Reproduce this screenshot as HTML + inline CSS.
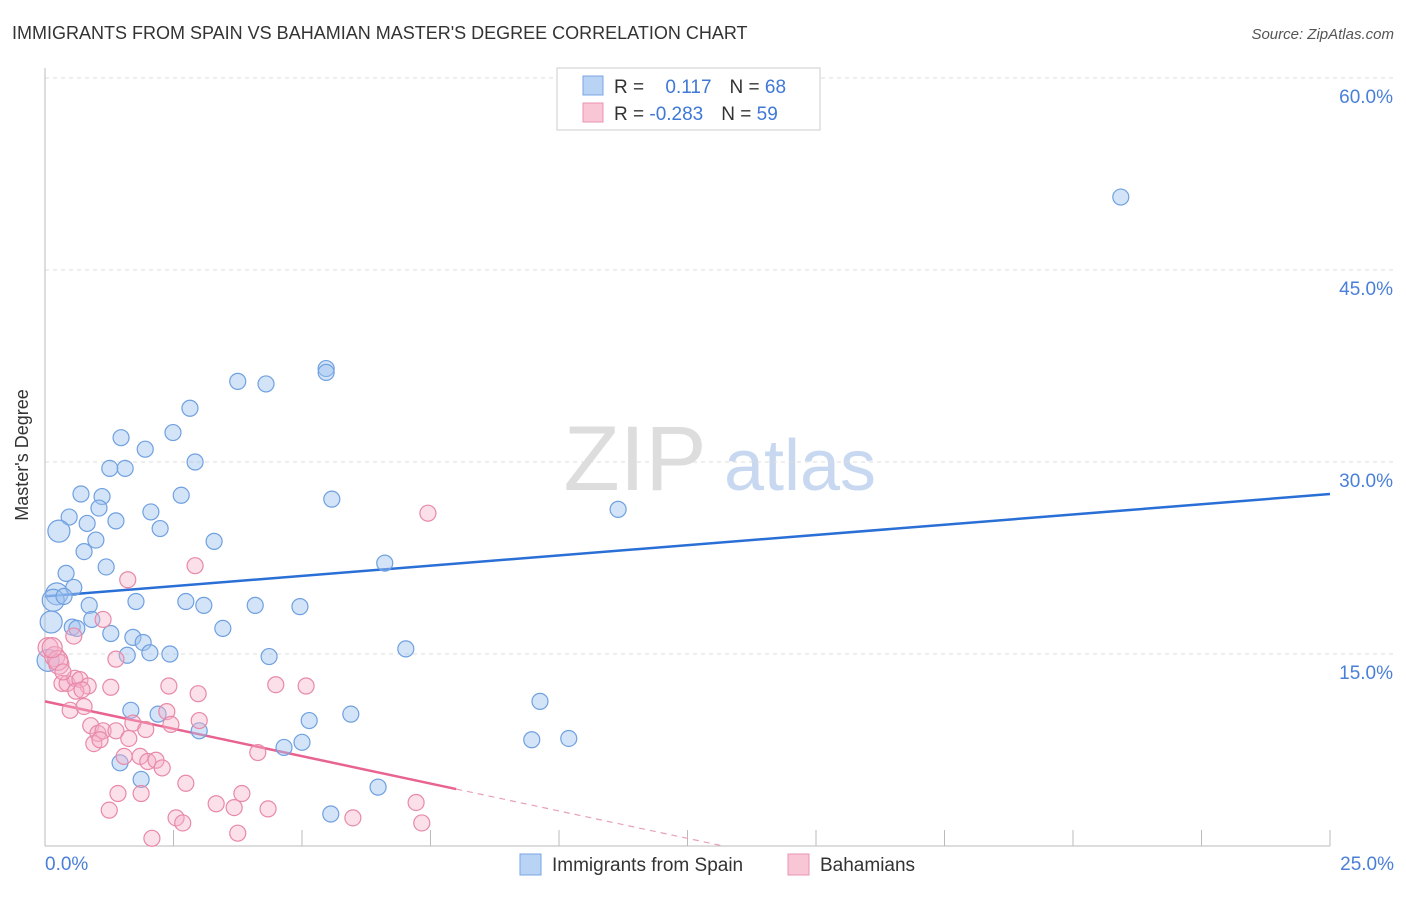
<!DOCTYPE html>
<html><head><meta charset="utf-8"><style>
body{margin:0;background:#fff;font-family:"Liberation Sans",sans-serif;}
svg text{font-family:"Liberation Sans",sans-serif;}
</style></head><body>
<svg id="chart" width="1406" height="892" viewBox="0 0 1406 892">
<text x="12" y="39" font-size="18" fill="#333">IMMIGRANTS FROM SPAIN VS BAHAMIAN MASTER'S DEGREE CORRELATION CHART</text>
<text x="1394" y="39" font-size="15" fill="#555" text-anchor="end" font-style="italic">Source: ZipAtlas.com</text>
<text x="28" y="455" font-size="18" fill="#333" text-anchor="middle" transform="rotate(-90 28 455)">Master's Degree</text>
<g>
<text x="635" y="490" font-size="92" fill="#ddd" text-anchor="middle" font-family="Liberation Serif">ZIP</text>
<text x="800" y="490" font-size="72" fill="#c8d8f0" text-anchor="middle">atlas</text>
</g>
<g id="grid"></g><g id="axes"></g><g id="lines"></g><g id="pts"></g>
<g>
<rect x="557" y="68" width="263" height="62" fill="#fff" stroke="#ccc"/>
<rect x="583" y="76" width="20" height="19" fill="#b9d3f5" stroke="#7aa6e2"/>
<rect x="583" y="103" width="20" height="19" fill="#f9c6d6" stroke="#ea93b0"/>
<text x="614" y="93" font-size="19" fill="#333">R = <tspan fill="#3f78d6" dx="16">0.117</tspan><tspan dx="18" fill="#333">N = </tspan><tspan fill="#3f78d6">68</tspan></text>
<text x="614" y="120" font-size="19" fill="#333">R = <tspan fill="#3f78d6">-0.283</tspan><tspan dx="18" fill="#333">N = </tspan><tspan fill="#3f78d6">59</tspan></text>
</g>
<g>
<rect x="520" y="854" width="21" height="21" fill="#b9d3f5" stroke="#7aa6e2"/>
<text x="552" y="871" font-size="19" fill="#333">Immigrants from Spain</text>
<rect x="788" y="854" width="21" height="21" fill="#f9c6d6" stroke="#ea93b0"/>
<text x="820" y="871" font-size="19" fill="#333">Bahamians</text>
</g>
</svg>
<script>
const yTicks=[15,30,45,60];
const yTickLabels=["15.0%","30.0%","45.0%","60.0%"];
const xTickLabels=["0.0%","25.0%"];
const blueX=[20.93,3.75,4.30,5.47,5.47,2.82,2.49,1.48,1.95,2.92,1.26,1.56,0.70,1.11,2.65,5.58,11.15,0.47,1.05,2.06,0.82,1.38,0.27,2.24,3.29,0.99,0.76,6.61,1.19,0.41,0.56,0.23,0.16,0.37,1.77,2.74,3.09,4.09,4.96,0.86,0.12,0.91,0.53,0.62,1.28,3.46,1.71,1.91,2.04,2.43,1.60,4.36,7.02,9.63,1.67,2.20,5.95,5.14,3.00,9.47,10.19,5.00,4.65,1.46,1.87,6.48,5.56,0.06];
const blueY=[50.7,36.3,36.1,37.3,37.0,34.2,32.3,31.9,31.0,30.0,29.5,29.5,27.5,27.3,27.4,27.1,26.3,25.7,26.4,26.1,25.2,25.4,24.6,24.8,23.8,23.9,23.0,22.1,21.8,21.3,20.2,19.7,19.2,19.5,19.1,19.1,18.8,18.8,18.7,18.8,17.5,17.7,17.1,17.0,16.6,17.0,16.3,15.9,15.1,15.0,14.9,14.8,15.4,11.3,10.6,10.3,10.3,9.8,9.0,8.3,8.4,8.1,7.7,6.5,5.2,4.6,2.5,14.5];
const pinkX=[7.45,2.92,1.61,1.13,0.56,0.06,0.19,0.27,1.38,0.33,0.43,0.58,0.68,0.84,1.28,0.60,2.41,2.98,4.49,5.08,0.49,0.76,2.37,3.00,0.89,1.71,2.45,1.03,1.13,1.38,1.63,0.95,1.54,1.85,2.00,2.16,2.28,4.14,2.74,1.42,1.87,3.83,1.25,3.33,3.68,4.34,7.22,2.55,2.68,5.99,7.33,2.08,3.75,0.25,0.14,0.35,0.72,1.07,1.96];
const pinkY=[26.0,21.9,20.8,17.7,16.4,15.5,14.8,14.2,14.6,12.7,12.7,13.1,13.0,12.5,12.4,12.1,12.5,11.9,12.6,12.5,10.6,10.9,10.5,9.8,9.4,9.6,9.5,8.8,9.0,9.0,8.4,8.0,7.0,7.0,6.6,6.7,6.1,7.3,4.9,4.1,4.1,4.1,2.8,3.3,3.0,2.9,3.4,2.2,1.8,2.2,1.8,0.6,1.0,14.5,15.5,13.6,12.2,8.3,9.1];
const blueLine=[19.5,27.5];
const pinkLine=[11.3,4.45];
const pinkLineEnd=8.0;

const X0=45,X1=1330,Y0=846,Y1=78;
const sx=v=>X0+(v/25)*(X1-X0);
const sy=v=>Y0-(v/60)*(Y0-Y1);
const NS="http://www.w3.org/2000/svg";
function mk(tag,attrs,parent){const e=document.createElementNS(NS,tag);for(const k in attrs)e.setAttribute(k,attrs[k]);document.getElementById(parent).appendChild(e);return e;}
yTicks.forEach((t,i)=>{
 const g=mk('line',{x1:X0,x2:1394,y1:sy(t),y2:sy(t),stroke:'#ddd','stroke-dasharray':'4,4'},'grid');
 
 
 const l=mk('text',{x:1393,y:sy(t)+25,'font-size':19,fill:'#4a7fd8','text-anchor':'end'},'axes');
 l.textContent=yTickLabels[i];
 
 
});
const ax=mk('line',{x1:X0,x2:X1,y1:Y0,y2:Y0,stroke:'#bbb'},'axes');


const ay=mk('line',{x1:X0,x2:X0,y1:68,y2:Y0,stroke:'#bbb'},'axes');


for(let i=0;i<=10;i++){
 const t=mk('line',{x1:sx(i*2.5),x2:sx(i*2.5),y1:Y0,y2:Y0-16,stroke:'#bbb'},'axes');
 
 
}
[[0,'start',45],[25,'end',1394]].forEach((d,i)=>{
 const l=mk('text',{x:d[2],y:870,'font-size':19,fill:'#4a7fd8','text-anchor':d[1]},'axes');
 l.textContent=xTickLabels[i];
 
 
});
blueX.forEach((x,i)=>{
 const c=mk('circle',{cx:sx(x),cy:sy(blueY[i]),r:(x<0.3?11:8),fill:'rgba(160,195,240,0.45)',stroke:'#6fa0e0','stroke-width':1.2},'pts');
 
 
});
pinkX.forEach((x,i)=>{
 const c=mk('circle',{cx:sx(x),cy:sy(pinkY[i]),r:(x<0.3?10:8),fill:'rgba(245,175,200,0.4)',stroke:'#e889a8','stroke-width':1.2},'pts');
 
 
});
const bl=mk('line',{x1:sx(0),y1:sy(blueLine[0]),x2:sx(25),y2:sy(blueLine[1]),stroke:'#2a6fd6','stroke-width':2.5},'lines');


const slope=(pinkLine[1]-pinkLine[0])/pinkLineEnd;
const pl=mk('line',{x1:sx(0),y1:sy(pinkLine[0]),x2:sx(pinkLineEnd),y2:sy(pinkLine[1]),stroke:'#e8638f','stroke-width':2.5},'lines');


const zx=-pinkLine[0]/slope;
const pd=mk('line',{x1:sx(pinkLineEnd),y1:sy(pinkLine[1]),x2:sx(zx),y2:sy(0),stroke:'#e8a0b8','stroke-width':1.2,'stroke-dasharray':'6,5'},'lines');


</script>
</body></html>
